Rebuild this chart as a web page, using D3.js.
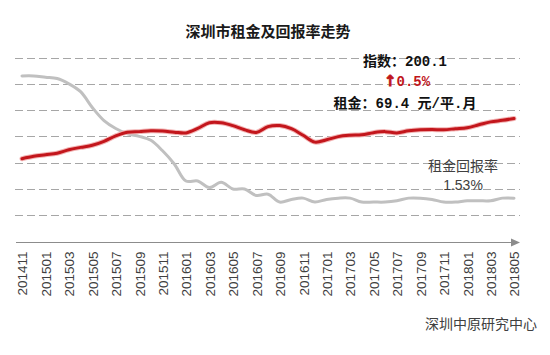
<!DOCTYPE html>
<html><head><meta charset="utf-8">
<script src="https://cdn.jsdelivr.net/npm/d3@7"></script>
<style>body{margin:0;background:#fff}svg{display:block}</style>
</head><body><svg id="c" width="550" height="355"></svg>
<script>
const months = ["201411","201412","201501","201502","201503","201504","201505","201506","201507","201508","201509","201510","201511","201512","201601","201602","201603","201604","201605","201606","201607","201608","201609","201610","201611","201612","201701","201702","201703","201704","201705","201706","201707","201708","201709","201710","201711","201712","201801","201802","201803","201804","201805"];
const tickLabels = months.filter((d, i) => i % 2 === 0);
const rentIndex = [184.8,185.7,186.3,186.9,188.2,189.1,189.9,191.4,193.5,194.9,195.1,195.4,195.3,194.9,194.6,196.3,198.5,198.5,197.4,195.8,194.8,197.0,197.4,196.2,193.7,191.1,192.0,193.2,193.7,193.9,194.7,195.1,194.6,195.4,195.8,195.9,195.8,196.2,196.6,197.7,198.8,199.4,200.1];
const rentYield = [2.46,2.46,2.45,2.44,2.40,2.34,2.22,2.12,2.06,2.02,2.00,1.97,1.89,1.79,1.66,1.66,1.61,1.65,1.60,1.60,1.55,1.56,1.50,1.52,1.53,1.50,1.52,1.53,1.53,1.50,1.50,1.50,1.51,1.53,1.53,1.52,1.50,1.50,1.51,1.51,1.51,1.53,1.53];
const gridValues = [1.4,1.6,1.8,2.0,2.2,2.4,2.6];
const title = "深圳市租金及回报率走势";
const source = "深圳中原研究中心";

const svg = d3.select("#c");
const x = d3.scalePoint().domain(months).range([22, 514]);
const yYield = d3.scaleLinear().domain([1.2, 2.6]).range([241.5, 57.5]);
const yRent = d3.scaleLinear().domain([153.3, 223.3]).range([241.5, 57.5]);

// grid
svg.append("g").selectAll("line").data(gridValues).join("line")
  .attr("x1", 15).attr("x2", 520)
  .attr("y1", d => Math.round(yYield(d)) + 0.5).attr("y2", d => Math.round(yYield(d)) + 0.5)
  .attr("stroke", "#a6a6a6").attr("stroke-width", 1).attr("stroke-dasharray", "8,4");

// axis
const axisY = Math.round(yYield(1.2)) + 0.5;
svg.append("line").attr("x1", 16).attr("x2", 512).attr("y1", axisY).attr("y2", axisY)
  .attr("stroke", "#8c8c8c").attr("stroke-width", 1.2);
svg.append("path").attr("d", `M511,${axisY-4}L520,${axisY}L511,${axisY+4}Z`).attr("fill", "#8c8c8c");

const ax = svg.append("g").attr("transform", `translate(0,${axisY})`)
  .call(d3.axisBottom(x).tickValues(tickLabels).tickSize(0).tickPadding(0));
ax.select(".domain").remove();
ax.selectAll("text")
  .attr("transform", "rotate(-90)")
  .attr("x", -9).attr("y", 0).attr("dy", "0.36em")
  .attr("text-anchor", "end")
  .attr("font-family", "'Liberation Sans', Arial, sans-serif")
  .attr("font-size", 13.5).attr("fill", "#404040");

const curve = d3.curveCatmullRom.alpha(0.5);
const lineYield = d3.line().x((d, i) => x(months[i])).y(d => yYield(d)).curve(curve);
const lineRent = d3.line().x((d, i) => x(months[i])).y(d => yRent(d)).curve(curve);

svg.append("path").attr("d", lineYield(rentYield)).attr("fill", "none")
  .attr("stroke", "#c0c0c0").attr("stroke-width", 3).attr("stroke-linecap", "round");
svg.append("path").attr("d", lineRent(rentIndex)).attr("fill", "none")
  .attr("stroke", "#f2b3b3").attr("stroke-width", 5).attr("stroke-linecap", "round");
svg.append("path").attr("d", lineRent(rentIndex)).attr("fill", "none")
  .attr("stroke", "#c3161c").attr("stroke-width", 3).attr("stroke-linecap", "round");

// title
svg.append("text").attr("x", 268).attr("y", 37).attr("text-anchor", "middle")
  .attr("font-family", "'Noto Sans CJK SC', sans-serif").attr("font-weight", "bold")
  .attr("font-size", 15).attr("fill", "#1a1a1a").text(title);

// annotations
const annFont = "'Liberation Mono', 'Noto Sans CJK SC', monospace";
svg.append("text").attr("x", 405).attr("y", 66).attr("text-anchor", "middle")
  .attr("font-family", annFont).attr("font-weight", "bold").attr("font-size", 14)
  .attr("fill", "#111").text("指数：200.1");
const chg = svg.append("text").attr("x", 407).attr("y", 86).attr("text-anchor", "middle")
  .attr("font-family", annFont).attr("font-weight", "bold").attr("font-size", 14)
  .attr("fill", "#c0161b");
chg.append("tspan").attr("font-family", "'DejaVu Sans', sans-serif").attr("font-size", 15)
  .attr("stroke", "#c0161b").attr("stroke-width", 0.8).text("↑");
chg.append("tspan").text("0.5%");
svg.append("text").attr("x", 405).attr("y", 108).attr("text-anchor", "middle")
  .attr("font-family", annFont).attr("font-weight", "bold").attr("font-size", 14)
  .attr("fill", "#111").text("租金：69.4 元/平.月");

svg.append("text").attr("x", 463).attr("y", 171).attr("text-anchor", "middle")
  .attr("font-family", "'Noto Sans CJK SC', sans-serif").attr("font-size", 14)
  .attr("fill", "#404040").text("租金回报率");
svg.append("text").attr("x", 463).attr("y", 190).attr("text-anchor", "middle")
  .attr("font-family", "'Liberation Sans', Arial, sans-serif").attr("font-size", 14)
  .attr("fill", "#404040").text("1.53%");

svg.append("text").attr("x", 537).attr("y", 329).attr("text-anchor", "end")
  .attr("font-family", "'Noto Sans CJK SC', sans-serif").attr("font-size", 14)
  .attr("fill", "#404040").text(source);
</script>
</body></html>
